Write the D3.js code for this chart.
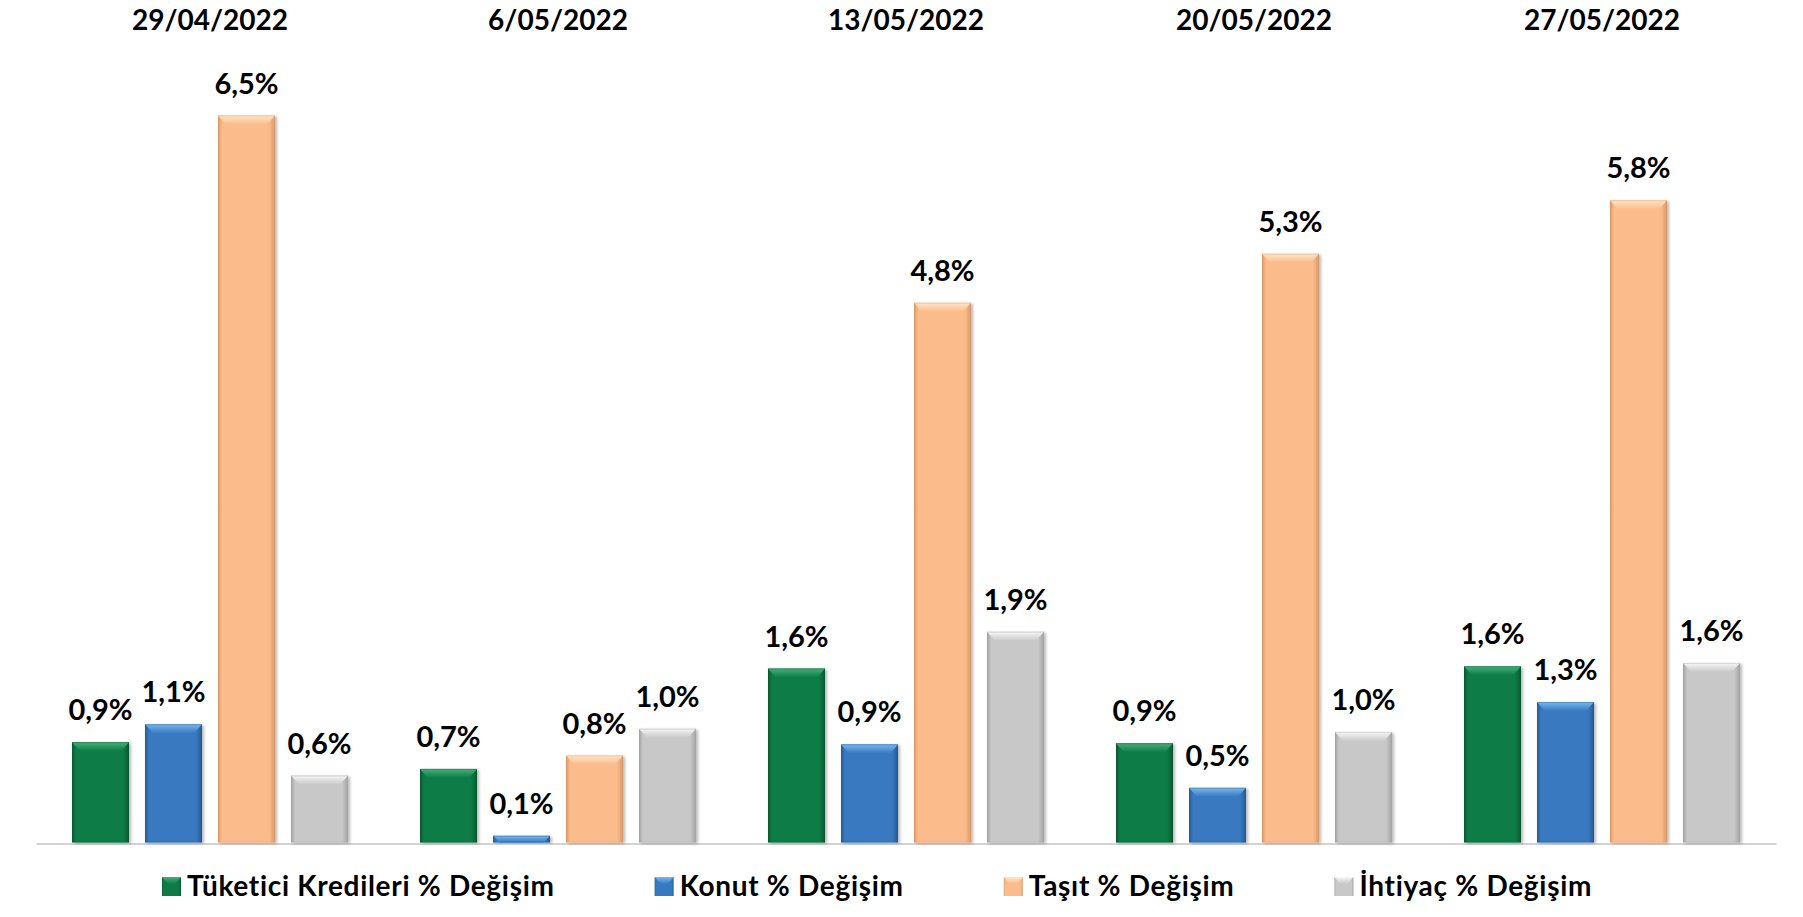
<!DOCTYPE html>
<html><head><meta charset="utf-8">
<script src="https://cdn.jsdelivr.net/npm/d3@7"></script>
<style>
html,body{margin:0;padding:0;background:#fff;}
svg{display:block;}
text{font-family:Lato,"Noto Sans",sans-serif;font-weight:700;fill:#000;}
</style>
</head><body>
<svg id="c" width="1803" height="917"></svg>
<script>
// ---- data ----
const dates = ["29/04/2022", "6/05/2022", "13/05/2022", "20/05/2022", "27/05/2022"];
const seriesNames = ["Tüketici Kredileri % Değişim", "Konut % Değişim", "Taşıt % Değişim", "İhtiyaç % Değişim"];
const tuketici = [0.90, 0.66, 1.56, 0.89, 1.58];
const konut    = [1.06, 0.06, 0.88, 0.49, 1.26];
const tasit    = [6.52, 0.78, 4.84, 5.28, 5.76];
const ihtiyac  = [0.60, 1.02, 1.89, 0.99, 1.61];
const seriesValues = [tuketici, konut, tasit, ihtiyac];

// ---- styles ----
const palette = [
  {base:"#0c7b46", light:"#49b07a", dark:"#06582f"},
  {base:"#3779c0", light:"#79b8ee", dark:"#265a94"},
  {base:"#fbbb8a", light:"#ffe6c8", dark:"#d99866"},
  {base:"#c8c8c8", light:"#f7f7f7", dark:"#a2a2a2"}
];

const svg = d3.select("#c");
const defs = svg.append("defs");
palette.forEach((p,i)=>{
  const g = defs.append("linearGradient").attr("id","body"+i).attr("x1","0").attr("x2","1").attr("y1","0").attr("y2","0");
  g.append("stop").attr("offset","0").attr("stop-color",p.dark);
  g.append("stop").attr("offset","0.07").attr("stop-color",p.base);
  g.append("stop").attr("offset","0.90").attr("stop-color",p.base);
  g.append("stop").attr("offset","1").attr("stop-color",p.dark);
  const t = defs.append("linearGradient").attr("id","top"+i).attr("x1","0").attr("x2","0").attr("y1","0").attr("y2","1");
  t.append("stop").attr("offset","0").attr("stop-color",p.light);
  t.append("stop").attr("offset","1").attr("stop-color",p.base);
});
const f = defs.append("filter").attr("id","shadow").attr("x","-20%").attr("y","-20%").attr("width","140%").attr("height","140%");
f.append("feDropShadow").attr("dx",2).attr("dy",1).attr("stdDeviation",1.6).attr("flood-color","#000").attr("flood-opacity",0.28);

// ---- scales ----
const x0 = d3.scaleBand().domain(dates).range([36, 1776]).padding(0);
const x1 = d3.scaleBand().domain(seriesNames).range([0, x0.bandwidth()]).paddingInner(0.219).paddingOuter(0.493);
const y = d3.scaleLinear().domain([0, 7]).range([842.5, 62]);
const fmt = v => d3.format(".1f")(v).replace(".", ",") + "%";

// ---- axis line ----
const ax = svg.append("g").attr("transform", `translate(0,${y(0)+1})`)
  .call(d3.axisBottom(x0).tickSize(0).tickSizeOuter(0).tickFormat(""));
ax.select(".domain").attr("stroke","#d3d3d3").attr("stroke-width",2.2);

// ---- date titles ----
svg.append("g").selectAll("text").data(dates).join("text")
  .attr("x", d => x0(d) + x0.bandwidth()/2)
  .attr("y", 30)
  .attr("text-anchor","middle")
  .style("font-size","28px")
  .text(d => d);

// ---- bars ----
const bw = x1.bandwidth();
seriesNames.forEach((s, si) => {
  const g = svg.append("g");
  const items = dates.map((d, i) => ({d, v: seriesValues[si][i]}));
  const bar = g.selectAll("g.bar").data(items).join("g").attr("class","bar");
  bar.append("rect")
    .attr("x", o => x0(o.d) + x1(s))
    .attr("y", o => y(o.v))
    .attr("width", bw)
    .attr("height", o => y(0) - y(o.v))
    .attr("fill", `url(#body${si})`)
    .attr("filter","url(#shadow)");
  bar.append("path")
    .attr("d", o => {
      const xl = x0(o.d) + x1(s), yt = y(o.v);
      const h = Math.min(9, y(0) - y(o.v));
      const ins = Math.min(8, h);
      return `M${xl},${yt}L${xl+bw},${yt}L${xl+bw-ins},${yt+h}L${xl+ins},${yt+h}Z`;
    })
    .attr("fill", `url(#top${si})`);
  bar.append("rect")
    .attr("x", o => x0(o.d) + x1(s) + 0.5)
    .attr("y", o => y(o.v) + 0.5)
    .attr("width", bw - 1)
    .attr("height", o => Math.max(0, y(0) - y(o.v) - 1))
    .attr("fill","none")
    .attr("stroke", palette[si].dark)
    .attr("stroke-opacity",0.35)
    .attr("stroke-width",1);
  bar.append("text")
    .attr("x", o => x0(o.d) + x1(s) + bw/2)
    .attr("y", o => y(o.v) - 22)
    .attr("text-anchor","middle")
    .style("font-size","29px")
    .text(o => fmt(o.v));
});

// ---- legend ----
const lg = svg.append("g");
let lx = 162;
const sq = 19;
seriesNames.forEach((s, si) => {
  const it = lg.append("g");
  it.append("rect").attr("x", lx).attr("y", 877).attr("width", sq).attr("height", sq)
    .attr("fill", `url(#body${si})`);
  it.append("path")
    .attr("d", `M${lx},877L${lx+sq},877L${lx+sq-6},884L${lx+6},884Z`)
    .attr("fill", `url(#top${si})`);
  const t = it.append("text").attr("x", lx + sq + 6).attr("y", 896)
    .style("font-size","28px").style("letter-spacing","0.7px").text(s);
  lx += sq + 6 + t.node().getComputedTextLength() + 100;
});
</script>
</body></html>
